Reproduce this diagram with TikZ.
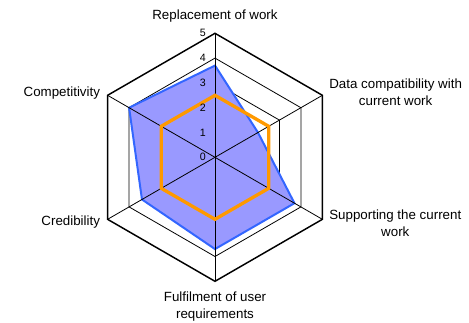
\documentclass[tikz,border=0pt]{standalone}
\usepackage{fontspec}
\setmainfont{Liberation Sans}
\usepackage{tikz}
\usetikzlibrary{positioning}
\definecolor{seriesBlue}{HTML}{3366FF}
\definecolor{seriesFill}{HTML}{9999FF}
\definecolor{seriesOrange}{HTML}{FF9900}
\tikzset{
    ring/.style={draw=black, line width=0.6pt},
    outerRing/.style={draw=black, line width=1.1pt},
    spoke/.style={draw=black, line width=0.6pt},
    axisLabel/.style={inner sep=0pt, align=center, font=\fontsize{10}{12.75}\selectfont},
    tick/.style={inner sep=0pt, anchor=east, font=\fontsize{8}{9}\selectfont},
    expected/.style={draw=seriesBlue, line width=1.5pt, fill=seriesFill, line join=miter},
    current/.style={draw=seriesOrange, line width=2.5pt, line join=miter}
}

\begin{document}
\begin{tikzpicture}[x=18.6pt, y=18.6pt]
        \useasboundingbox (-8.669,-6.641) rectangle (10.242,6.343);
        \coordinate (O) at (0,0);
        \coordinate (V1) at (90:5);
        \coordinate (V2) at (30:5);
        \coordinate (V3) at (-30:5);
        \coordinate (V4) at (-90:5);
        \coordinate (V5) at (210:5);
        \coordinate (V6) at (150:5);

        \foreach \r in {1,2,3,4}
            \draw[ring] (90:\r) -- (30:\r) -- (-30:\r) -- (-90:\r) -- (210:\r) -- (150:\r) -- cycle;
        \draw[outerRing] (V1) -- (V2) -- (V3) -- (V4) -- (V5) -- (V6) -- cycle;

        \draw[expected] (90:3.7) -- (30:2) -- (-30:3.7) -- (-90:3.7) -- (210:3.4) -- (150:4) -- cycle;

        \draw[spoke] (O) -- (V1);
        \draw[spoke] (O) -- (V2);
        \draw[spoke] (O) -- (V3);
        \draw[spoke] (O) -- (V4);
        \draw[spoke] (O) -- (V5);
        \draw[spoke] (O) -- (V6);

        \draw[current] (90:2.5) -- (30:2.5) -- (-30:2.5) -- (-90:2.5) -- (210:2.5) -- (150:2.5) -- cycle;

        \foreach \k in {0,...,5}
            \node[tick] (Tick\k) at (-0.36,\k) {\k};

        \node[axisLabel, above=8pt of V1] (Repl) {Replacement of work};
        \node[axisLabel, right=5pt of V2, yshift=2.5pt] (DataComp) {Data compatibility with\\current work};
        \node[axisLabel, right=5pt of V3, yshift=-2.8pt] (Support) {Supporting the current\\work};
        \node[axisLabel, below=8pt of V4] (Fulfil) {Fulfilment of user\\requirements};
        \node[axisLabel, left=5.5pt of V5, yshift=-2pt] (Cred) {Credibility};
        \node[axisLabel, left=5.5pt of V6, yshift=2pt] (Compet) {Competitivity};
    \end{tikzpicture}
\end{document}
